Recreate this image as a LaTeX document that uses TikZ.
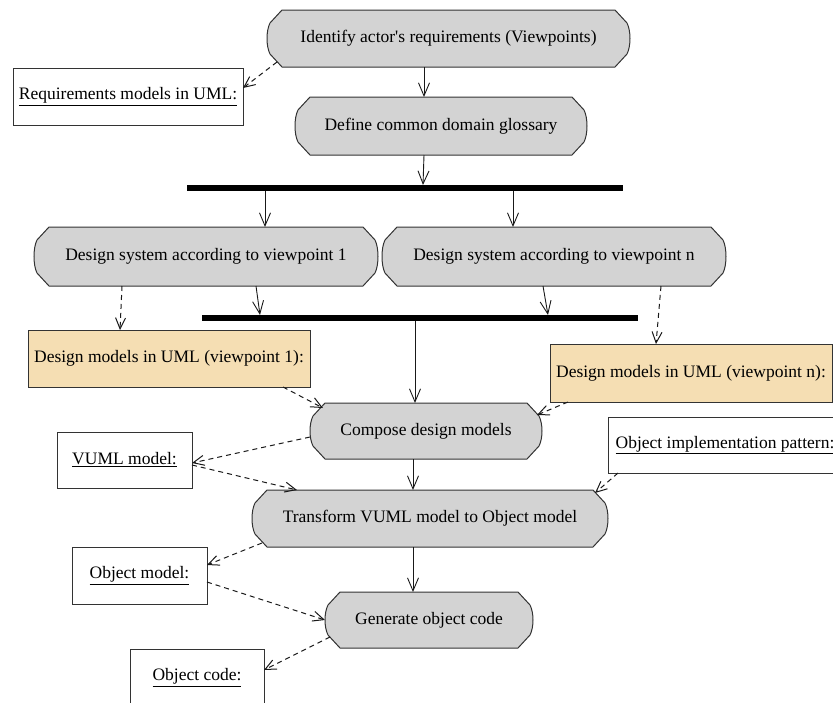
\documentclass[tikz,border=0pt]{standalone}
\usepackage{fontspec}
\setmainfont{Liberation Serif}
\usetikzlibrary{arrows.meta,calc}
\pgfdeclarelayer{bg}
\pgfsetlayers{bg,main}
\definecolor{actgray}{HTML}{D3D3D3}
\definecolor{objtan}{HTML}{F5DEB3}
\definecolor{edgegray}{HTML}{333333}
\newcommand\actshape[1]{%
  \path[actpath] ($(#1.north west)+(15,0)$) -- ($(#1.north east)+(-15,0)$)
    -- ($(#1.north east)+(-3,13)$) .. controls +(4,8) and +(4,-8) .. ($(#1.south east)+(-3,-13)$)
    -- ($(#1.south east)+(-15,0)$) -- ($(#1.south west)+(15,0)$)
    -- ($(#1.south west)+(3,-13)$) .. controls +(-4,-8) and +(-4,8) .. ($(#1.north west)+(3,13)$)
    -- cycle;}
\begin{document}
\begin{tikzpicture}[
  x=1pt, y=-1pt,
  base/.style={inner sep=0pt, outer sep=0pt, font=\fontsize{17.5}{20}\selectfont, align=center},
  act/.style={base},
  actpath/.style={fill=actgray, draw=edgegray, line width=1pt},
  obj/.style={base, draw=edgegray, fill=white, line width=1pt},
  tanobj/.style={obj, fill=objtan},
  bar/.style={fill=black, draw=none, inner sep=0pt, outer sep=0pt, minimum height=6pt},
  flow/.style={draw=black!90, line width=0.9pt, -{Straight Barb[length=13pt,width=11pt]}},
  dep/.style={draw=black!90, line width=1pt, dash pattern=on 5pt off 4pt, -{Straight Barb[length=11pt,width=10pt]}},
]
\useasboundingbox (0,0) rectangle (833,702);
\clip (0,0) rectangle (833,702);

% action states
\node[act, minimum width=363pt, minimum height=57pt] (a1) at (448.5,38.5) {Identify actor\textquotesingle s requirements (Viewpoints)};
\node[act, minimum width=292pt, minimum height=58pt] (a2) at (441,126) {Define common domain glossary};
\node[act, minimum width=344pt, minimum height=59pt] (a3) at (206,256.5) {Design system according to viewpoint 1};
\node[act, minimum width=344pt, minimum height=59pt] (a4) at (554,256.5) {Design system according to viewpoint n};
\node[act, minimum width=232pt, minimum height=56pt] (a5) at (426,431) {Compose design models};
\node[act, minimum width=356pt, minimum height=57pt] (a6) at (430,518.5) {Transform VUML model to Object model};
\node[act, minimum width=208pt, minimum height=56pt] (a7) at (429,620) {Generate object code};

\begin{pgfonlayer}{bg}
  \actshape{a1}\actshape{a2}\actshape{a3}\actshape{a4}\actshape{a5}\actshape{a6}\actshape{a7}
\end{pgfonlayer}

% bars
\node[bar, minimum width=436pt] (b1) at (405,188) {};
\node[bar, minimum width=436pt] (b2) at (420,318) {};

% object nodes
\node[obj, minimum width=230pt, minimum height=57pt] (o1) at (128,96.5) {\underline{Requirements models in UML:}};
\node[tanobj, minimum width=282pt, minimum height=57pt] (o2) at (169,358.5) {Design models in UML (viewpoint 1):};
\node[tanobj, minimum width=282pt, minimum height=58pt] (o3) at (691,373) {Design models in UML (viewpoint n):};
\node[obj, minimum width=135pt, minimum height=56pt] (o4) at (124.5,460) {\underline{VUML model:}};
\node[obj, minimum width=234pt, minimum height=56pt] (o5) at (725,445) {\underline{Object implementation pattern:}};
\node[obj, minimum width=135pt, minimum height=57pt] (o6) at (139.5,575.5) {\underline{Object model:}};
\node[obj, minimum width=134pt, minimum height=57pt] (o7) at (197,677.5) {\underline{Object code:}};

% control flow
\draw[flow] ([xshift=-24.5pt]a1.south) -- ([xshift=-17pt]a2.north);
\draw[flow] ([xshift=-17pt]a2.south) -- ([xshift=18pt]b1.north);
\draw[flow] ([xshift=-140pt]b1.south) -- ([xshift=59pt]a3.north);
\draw[flow] ([xshift=108pt]b1.south) -- ([xshift=-41pt]a4.north);
\draw[flow] ([xshift=50pt]a3.south) -- ([xshift=-160pt]b2.north);
\draw[flow] ([xshift=-11pt]a4.south) -- ([xshift=128pt]b2.north);
\draw[flow] ([xshift=-5pt]b2.south) -- ([xshift=-11pt]a5.north);
\draw[flow] ([xshift=-13pt]a5.south) -- ([xshift=-17pt]a6.north);
\draw[flow] ([xshift=-17pt]a6.south) -- ([xshift=-16pt]a7.north);

% object flow
\draw[dep] ([xshift=10pt,yshift=5pt]a1.south west) -- ([yshift=8.5pt]o1.east);
\draw[dep] ([xshift=-84pt]a3.south) -- ([xshift=-49pt]o2.north);
\draw[dep] ([xshift=107pt]a4.south) -- ([xshift=-35pt]o3.north);
\draw[dep] ([xshift=-27pt]o2.south east) -- ([xshift=13pt,yshift=-5pt]a5.north west);
\draw[dep] ([xshift=18pt]o3.south west) -- ([xshift=-5pt,yshift=-12pt]a5.north east);
\draw[dep] ([yshift=-6pt]a5.west) -- ([yshift=-3pt]o4.east);
\draw[dep] ([yshift=-5pt]o4.east) -- ([xshift=45pt]a6.north west);
\draw[dep] ([xshift=10pt]o5.south west) -- ([xshift=-13pt,yshift=-3pt]a6.north east);
\draw[dep] ([xshift=10pt,yshift=4pt]a6.south west) -- ([yshift=10.5pt]o6.east);
\draw[dep] ([yshift=-6.5pt]o6.east) -- (a7.west);
\draw[dep] ([xshift=5pt,yshift=11pt]a7.south west) -- ([yshift=7.5pt]o7.east);
\end{tikzpicture}
\end{document}
